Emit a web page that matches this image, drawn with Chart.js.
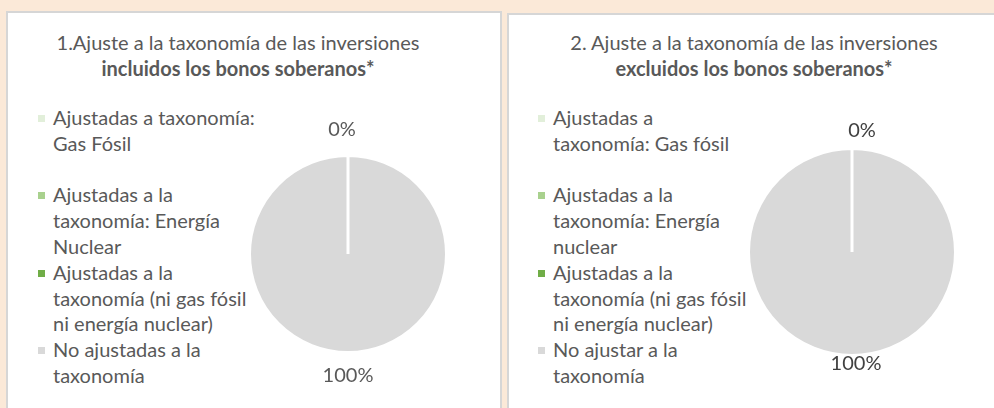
<!DOCTYPE html>
<html><head><meta charset="utf-8">
<script src="https://cdn.jsdelivr.net/npm/chart.js@4.4.1/dist/chart.umd.min.js"></script>
<style>
html,body{margin:0;padding:0;}
body{width:994px;height:408px;background:#fbe9d8;position:relative;overflow:hidden;font-family:Lato,"Open Sans",sans-serif;color:#595959;}
.panel{position:absolute;background:#fff;border:2px solid #d6d6d6;box-sizing:border-box;}
.title{position:absolute;left:0;width:100%;text-align:center;font-size:20px;line-height:24px;white-space:nowrap;}
.legend{position:absolute;font-size:20px;line-height:25.8px;}
.item{position:relative;padding-left:15px;}
.item .sw{position:absolute;left:0;top:10px;width:7px;height:7px;}
.cv{position:absolute;}
</style></head>
<body>
<div class="panel" id="p1" style="left:6px;top:11px;width:496px;height:410px;"></div>
<div class="panel" id="p2" style="left:507px;top:13px;width:500px;height:410px;"></div>
<div class="title" style="left:0;top:30px;width:476px;">1.Ajuste a la taxonomía de las inversiones</div>
<div class="title" style="left:0;top:56px;width:476px;font-weight:bold;">incluidos los bonos soberanos*</div>
<div class="title" style="left:504px;top:30px;width:500px;">2. Ajuste a la taxonomía de las inversiones</div>
<div class="title" style="left:504px;top:56px;width:500px;font-weight:bold;">excluidos los bonos soberanos*</div>
<div class="legend" id="lg1" style="left:38px;top:105px;"></div>
<div class="legend" id="lg2" style="left:538px;top:105px;"></div>
<canvas class="cv" id="c1" style="left:228px;top:114px;" width="240" height="280"></canvas>
<canvas class="cv" id="c2" style="left:722px;top:112px;" width="260" height="280"></canvas>
<script>
// Data
const labels1 = [["Ajustadas a taxonomía:","Gas Fósil",""],["Ajustadas a la","taxonomía: Energía","Nuclear"],["Ajustadas a la","taxonomía (ni gas fósil","ni energía nuclear)"],["No ajustadas a la","taxonomía"]];
const labels2 = [["Ajustadas a","taxonomía: Gas fósil",""],["Ajustadas a la","taxonomía: Energía","nuclear"],["Ajustadas a la","taxonomía (ni gas fósil","ni energía nuclear)"],["No ajustar a la","taxonomía"]];
const values1 = [0, 0, 0, 100];
const values2 = [0, 0, 0, 100];
const colors = ["#e2efda", "#a9d18e", "#70ad47", "#d9d9d9"];

function buildLegend(id, labels){
  const el = document.getElementById(id);
  labels.forEach((lines,i)=>{
    const d=document.createElement('div'); d.className='item';
    const s=document.createElement('span'); s.className='sw'; s.style.background=colors[i]; d.appendChild(s);
    lines.forEach(t=>{const l=document.createElement('div'); l.textContent=t||'\u00a0'; d.appendChild(l);});
    el.appendChild(d);
  });
}
buildLegend('lg1', labels1);
buildLegend('lg2', labels2);

const pctLabels = {
  id:'pctLabels',
  afterDatasetsDraw(chart, args, opts){
    const ctx=chart.ctx; const meta=chart.getDatasetMeta(0);
    const data=chart.data.datasets[0].data;
    const total=data.reduce((a,b)=>a+b,0);
    const done=new Set();
    meta.data.forEach((arc,i)=>{
      const v=data[i]; const pct=Math.round(v/total*100)+'%';
      const isZero = v===0;
      const off = isZero ? opts.zeroOffset : opts.fullOffset;
      const dx = isZero ? opts.zeroDx : opts.fullDx;
      const ang = isZero ? arc.startAngle : Math.PI/2;
      const x=arc.x+Math.cos(ang)*(arc.outerRadius+off)+dx;
      const y=arc.y+Math.sin(ang)*(arc.outerRadius+off);
      const key=pct+Math.round(x)+'_'+Math.round(y);
      if(done.has(key)) return; done.add(key);
      ctx.save(); ctx.font='20px Lato'; ctx.fillStyle=opts.color; ctx.textAlign='center'; ctx.textBaseline='middle';
      ctx.fillText(pct,x,y); ctx.restore();
    });
  }
};

function makePie(id, labels, values, pad, lblOpts){
  return new Chart(document.getElementById(id), {
    type:'pie',
    data:{labels:labels.map(l=>l.filter(Boolean).join(' ')), datasets:[{data:values, backgroundColor:colors, borderColor:'#ffffff', borderWidth:3}]},
    options:{responsive:false, animation:false, layout:{padding:pad},
      plugins:{legend:{display:false}, tooltip:{enabled:false}, pctLabels:lblOpts}},
    plugins:[pctLabels]
  });
}
makePie('c1', labels1, values1, {top:40,bottom:40,left:20,right:20}, {zeroOffset:26, zeroDx:-6, fullOffset:23, fullDx:0, color:'#595959'});
makePie('c2', labels2, values2, {top:35,bottom:35,left:25,right:25}, {zeroOffset:18, zeroDx:10, fullOffset:8, fullDx:4, color:'#404040'});
</script>
</body></html>
